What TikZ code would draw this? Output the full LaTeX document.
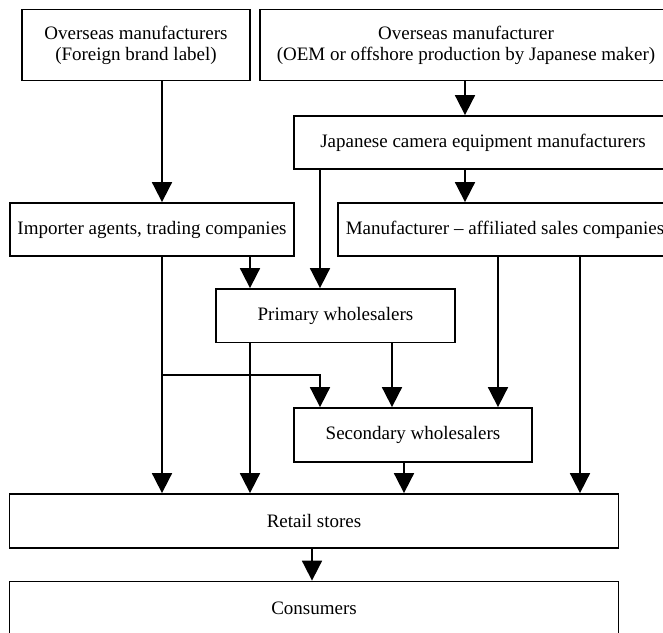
\documentclass[tikz,border=0pt]{standalone}
\usepackage{fontspec}
\setmainfont{Liberation Serif}
\usetikzlibrary{arrows.meta}
\begin{document}
\begin{tikzpicture}[x=1pt,y=-1pt,
        box/.style={draw,line width=1.8pt,inner sep=0pt,align=center,font=\fontsize{19}{21}\selectfont},
        arr/.style={line width=1.8pt,-{Triangle[width=20pt,length=20pt]}}]
                \useasboundingbox (0,0) rectangle (663,632);
                \node[box,minimum width=228pt,minimum height=71pt] (ovsA) at (136,45) {Overseas manufacturers\\(Foreign brand label)};
                \node[box,minimum width=412pt,minimum height=71pt] (ovsB) at (466,45) {Overseas manufacturer\\(OEM or offshore production by Japanese maker)};
                \node[box,minimum width=378pt,minimum height=53pt] (jpn) at (483,142.5) {Japanese camera equipment manufacturers};
                \node[box,minimum width=284.5pt,minimum height=53pt] (imp) at (152,229.5) {Importer agents, trading companies};
                \node[box,minimum width=334pt,minimum height=53pt] (aff) at (505,229.5) {Manufacturer -- affiliated sales companies};
                \node[box,minimum width=239pt,minimum height=53.5pt] (prim) at (335.5,315.75) {Primary wholesalers};
                \node[box,minimum width=238pt,minimum height=54pt] (sec) at (413,435) {Secondary wholesalers};
                \node[box,minimum width=609pt,minimum height=54pt] (retail) at (314,521) {Retail stores};
                \node[box,minimum width=609pt,minimum height=54.5pt] (cons) at (314,608.75) {Consumers};
                \draw[arr] (162,0 |- ovsA.south) -- (162,0 |- imp.north);
                \draw[arr] (465,0 |- ovsB.south) -- (465,0 |- jpn.north);
                \draw[arr] (465,0 |- jpn.south) -- (465,0 |- aff.north);
                \draw[arr] (320,0 |- jpn.south) -- (320,0 |- prim.north);
                \draw[arr] (250,0 |- imp.south) -- (250,0 |- prim.north);
                \draw[arr] (162,0 |- imp.south) -- (162,0 |- retail.north);
                \draw[arr] (162,375) -| (320,0 |- sec.north);
                \draw[arr] (250,0 |- prim.south) -- (250,0 |- retail.north);
                \draw[arr] (392,0 |- prim.south) -- (392,0 |- sec.north);
                \draw[arr] (498,0 |- aff.south) -- (498,0 |- sec.north);
                \draw[arr] (580,0 |- aff.south) -- (580,0 |- retail.north);
                \draw[arr] (404,0 |- sec.south) -- (404,0 |- retail.north);
                \draw[arr] (312,0 |- retail.south) -- (312,0 |- cons.north);
            \end{tikzpicture}
\end{document}
